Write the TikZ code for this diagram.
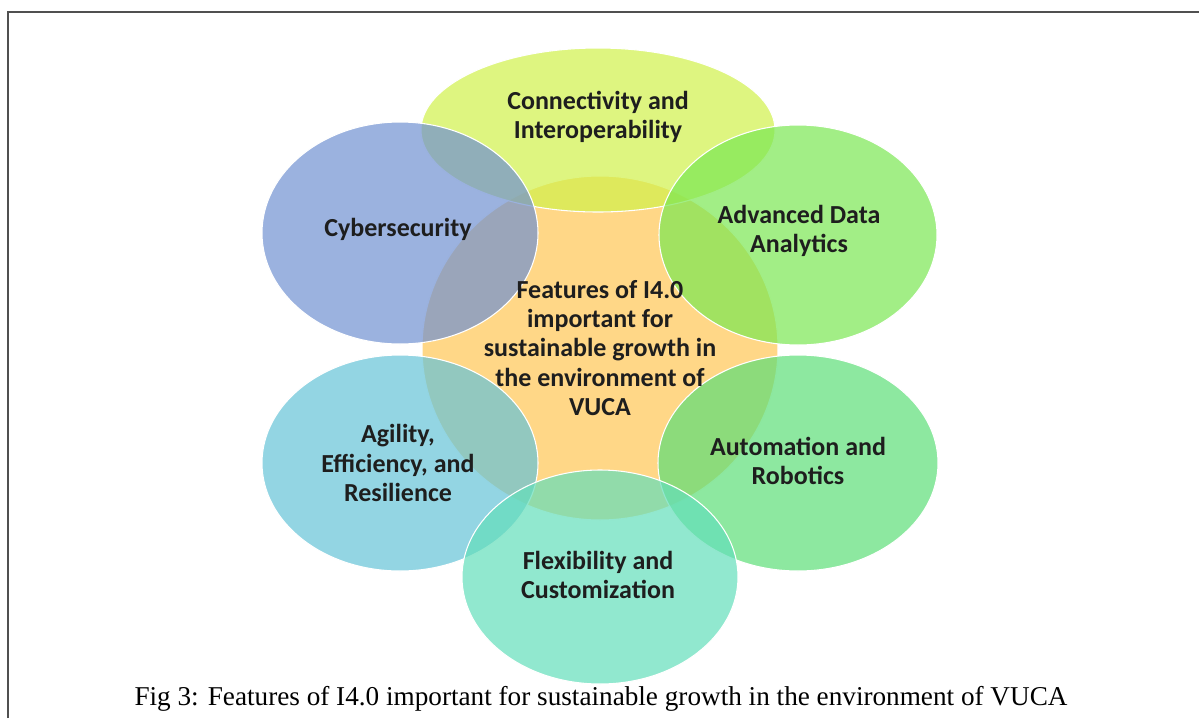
\documentclass[tikz,border=0pt]{standalone}
\usepackage{fontspec}
\setmainfont{Carlito}
\newfontfamily\capfont{Liberation Serif}
\usetikzlibrary{shapes.geometric}
\definecolor{cTop}{RGB}{208,241,74}
\definecolor{cCyb}{RGB}{112,145,209}
\definecolor{cAdv}{RGB}{122,231,82}
\definecolor{cAgi}{RGB}{101,195,215}
\definecolor{cAut}{RGB}{92,222,119}
\definecolor{cFle}{RGB}{99,222,186}
\definecolor{cCen}{RGB}{255,215,135}
\definecolor{txt}{RGB}{30,30,30}
\definecolor{frame}{RGB}{80,80,80}
\tikzset{
  blob/.style={ellipse, draw=white, line width=0.8pt, fill opacity=0.7, inner sep=0pt},
  lbl/.style={align=center, text=txt, font=\fontsize{19.5}{22}\selectfont\bfseries, inner sep=0pt},
}
\begin{document}
\begin{tikzpicture}[x=0.75pt,y=-0.75pt]
\useasboundingbox (0,0) rectangle (1199,718);
\coordinate (fa) at (8,718);
\coordinate (fb) at (8,12);
\coordinate (fc) at (1199,12);
\draw[frame, line width=2pt] (fa) -- (fb) -- (fc);
% center
\node[blob, fill=cCen, fill opacity=1, minimum width=267pt, minimum height=258pt] (cen) at (600,348) {};
% outer
\node[blob, fill=cTop, minimum width=265.5pt, minimum height=123pt] (top) at (598,130) {};
\node[blob, fill=cCyb, minimum width=207pt, minimum height=166.5pt] (cyb) at (400,233) {};
\node[blob, fill=cAdv, minimum width=208.5pt, minimum height=165pt] (adv) at (798,235) {};
\node[blob, fill=cAgi, minimum width=207pt, minimum height=162pt] (agi) at (400,463) {};
\node[blob, fill=cAut, minimum width=210pt, minimum height=162pt] (aut) at (798,463) {};
\node[blob, fill=cFle, minimum width=207pt, minimum height=160.5pt] (fle) at (600,577) {};
% labels
\node[lbl] (tTop) at (598,117) {Connectivity and\\Interoperability};
\node[lbl] (tCyb) at (398,229) {Cybersecurity};
\node[lbl] (tAdv) at (799,231) {Advanced Data\\Analytics};
\node[lbl] (tCen) at (600,348) {Features of I4.0\\important for\\sustainable growth in\\the environment of\\VUCA};
\node[lbl] (tAgi) at (398,463) {Agility,\\Efficiency, and\\Resilience};
\node[lbl] (tAut) at (798,461) {Automation and\\Robotics};
\node[lbl] (tFle) at (598,575) {Flexibility and\\Customization};
\node[font=\capfont\fontsize{20.4}{24}\selectfont, text=black, inner sep=0pt] (cap) at (601,699) {Fig 3: Features of I4.0 important for sustainable growth in the environment of VUCA};
\end{tikzpicture}
\end{document}
